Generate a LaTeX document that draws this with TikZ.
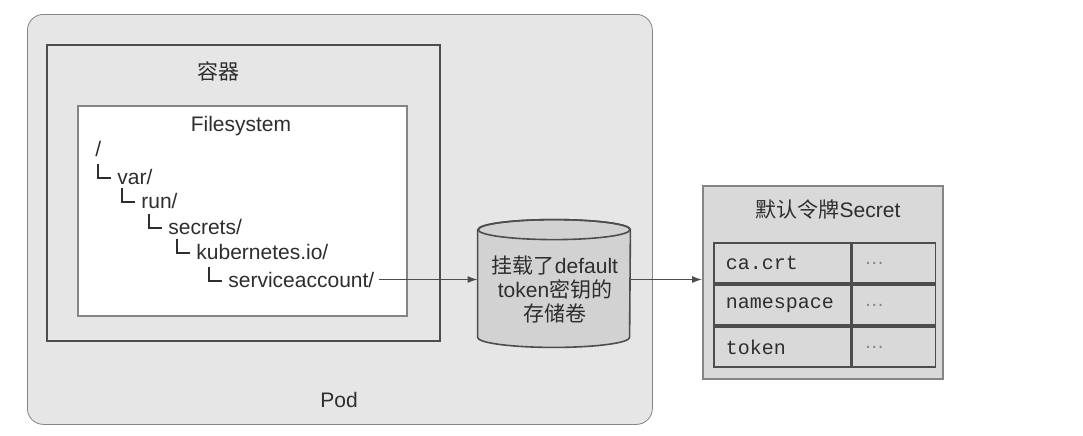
\documentclass[tikz,border=0pt]{standalone}
\usepackage{fontspec}
\setmainfont{Liberation Sans}
\setmonofont{Liberation Mono}
\newfontfamily\cjk{Noto Sans CJK SC}
\usetikzlibrary{arrows.meta,positioning,calc}
\definecolor{PodFill}{HTML}{E6E6E6}
\definecolor{LineDark}{HTML}{4D4D4D}
\definecolor{LineMid}{HTML}{858585}
\definecolor{VolFill}{HTML}{D2D2D2}
\definecolor{SecFill}{HTML}{D9D9D9}
\definecolor{TextGray}{HTML}{2E2E2E}

\begin{document}
\begin{tikzpicture}[x=0.5pt,y=-0.5pt,
    every node/.style={text=TextGray, font=\fontsize{10.5pt}{12pt}\selectfont},
    box/.style={anchor=north west, inner sep=0pt},
    fsitem/.style={anchor=base west, inner sep=2pt},
    treeline/.style={draw=TextGray, line width=0.6pt},
    flow/.style={draw=LineDark, line width=0.6pt, -{Latex[length=5pt,width=3.5pt]}},
    cell/.style={draw=LineDark, line width=0.8pt, fill=SecFill,
                 minimum height=20.2pt, inner xsep=6pt, align=left,
                 font=\ttfamily\fontsize{10pt}{12pt}\selectfont}]
  \useasboundingbox (0,0) rectangle (1083,435);

  % pod, container and its filesystem
  \node[box, draw=LineMid, fill=PodFill, rounded corners=8pt,
        minimum width=312.5pt, minimum height=205pt] (pod) at (27,14) {};
  \node (podlabel) at (339,400) {Pod};
  \node[box, draw=LineDark, line width=1.2pt, fill=PodFill,
        minimum width=196.5pt, minimum height=148pt] (container) at (46,44) {};
  \node (containerlabel) at (218,71) {\cjk 容器};
  \node[box, draw=LineMid, line width=0.8pt, fill=white,
        minimum width=164.5pt, minimum height=105pt] (fs) at (77,105) {};
  \node (fslabel) at (241,126) {Filesystem};

  % directory tree
  \node[fsitem] (fsroot) at (91,156) {/};
  \node[fsitem] (fsvar) at (113,184) {var/};
  \node[fsitem] (fsrun) at (137,208) {run/};
  \node[fsitem] (fssecrets) at (164,234) {secrets/};
  \node[fsitem] (fskube) at (192,259) {kubernetes.io/};
  \node[fsitem] (fssvc) at (224,287) {serviceaccount/};
  \foreach \n in {fsvar,fsrun,fssecrets,fskube,fssvc}
    \draw[treeline] ([shift={(-7.5pt,10pt)}]\n.base west) |- ([shift={(-1pt,3pt)}]\n.base west);

  % volume
  \path node[minimum width=76pt, minimum height=53.5pt, inner sep=0pt] (vol) at (554,283.5) {};
  \draw[draw=LineDark, line width=0.8pt, fill=VolFill]
    (vol.north west) -- (vol.south west)
    arc[start angle=180, end angle=360, x radius=38pt, y radius=5pt]
    -- (vol.north east)
    arc[start angle=0, end angle=180, x radius=38pt, y radius=5pt] -- cycle;
  \draw[draw=LineDark, line width=0.8pt] (vol.north) ellipse[x radius=38pt, y radius=5pt];
  \node[align=center] (voltext) at (555,289) {{\cjk 挂载了}default\\token{\cjk 密钥的}\\{\cjk 存储卷}};

  % secret
  \node[box, draw=LineMid, line width=0.8pt, fill=SecFill,
        minimum width=120pt, minimum height=96.5pt] (sec) at (702,185) {};
  \node (sectitle) at (828,210) {{\cjk 默认令牌}Secret};
  \node[cell, text width=56.5pt, anchor=north west] (k1) at (713,242) {ca.crt};
  \node[cell, text width=29.5pt, right=0pt of k1] (v1) {\rmfamily\color{LineMid}\dots};
  \node[cell, text width=56.5pt, below=0pt of k1] (k2) {namespace};
  \node[cell, text width=29.5pt, right=0pt of k2] (v2) {\rmfamily\color{LineMid}\dots};
  \node[cell, text width=56.5pt, below=0pt of k2] (k3) {token};
  \node[cell, text width=29.5pt, right=0pt of k3] (v3) {\rmfamily\color{LineMid}\dots};

  % mounts
  \draw[flow] (fssvc.east) -- (fssvc.east -| vol.west);
  \draw[flow] (vol.east |- fssvc.east) -- (fssvc.east -| sec.west);
\end{tikzpicture}
\end{document}
